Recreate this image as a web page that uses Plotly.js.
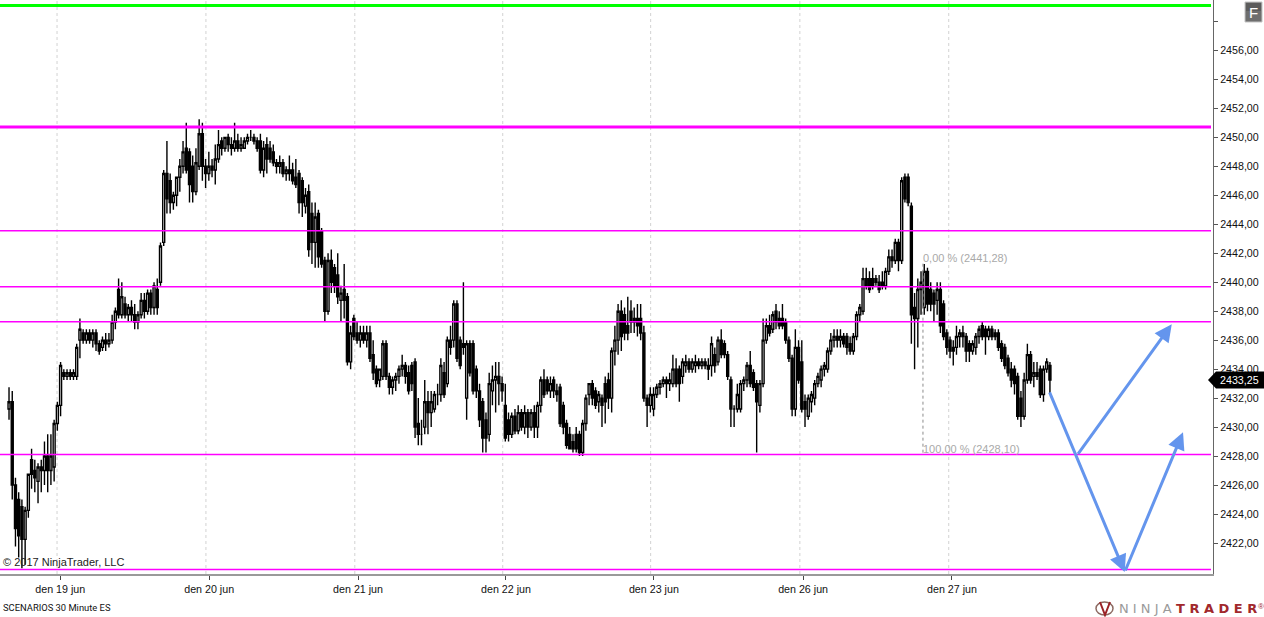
<!DOCTYPE html>
<html><head><meta charset="utf-8">
<script src="https://cdn.plot.ly/plotly-3.0.1.min.js"></script>
<style>html,body{margin:0;padding:0;background:#fff;overflow:hidden}</style></head>
<body><div id="chart" style="width:1264px;height:617px"></div>
<script>
// Each row: open, high, low, close
const barsBeforeJun19 = [
[2431.25,2432.75,2430.5,2431.75],[2431.75,2432.5,2425,2426],[2426,2426.5,2421.75,2423],[2425,2425.5,2421,2422.5],[2424.5,2425,2420.25,2422.25],
[2422.25,2424.5,2420.5,2424.25],[2424.25,2426.75,2423.75,2426.75],[2427.75,2428.5,2425.75,2426.75],[2427,2427.75,2425.5,2426.5],[2426.25,2427.5,2424.75,2427.25],
[2427.25,2427.75,2425.5,2427],[2427,2429,2426,2428],[2428,2429.5,2425.5,2427],[2427,2429.5,2426,2428],[2427.25,2430.5,2426.25,2430.25]];
const barsJun19 = [
[2430.25,2431.75,2429.75,2431.5],[2431.5,2434.5,2430.75,2434.25],[2433.75,2434,2433.25,2433.5],[2433.5,2434,2433.25,2433.75],[2433.75,2434,2433.25,2433.5],
[2433.5,2434,2433.25,2433.75],[2433.5,2435.75,2433.25,2435.5],[2436,2437.5,2434.75,2436.75],[2436.5,2436.75,2435.75,2436],[2436,2436.75,2435.75,2436.5],
[2436.5,2436.75,2435.75,2436],[2436,2436.75,2435.5,2436.5],[2436.5,2436.75,2435.25,2435.75],[2435.75,2436,2435,2435.25],[2435.5,2436.25,2435.25,2436],
[2436,2436.5,2435.25,2435.75],[2435.75,2436.5,2435.5,2436],[2436,2437.75,2435.75,2437.25],[2437.25,2438.25,2436.75,2438],[2439.5,2440.25,2437.5,2437.75],
[2437.75,2440,2437.5,2439],[2438.5,2439,2437.5,2437.75],[2437.75,2438.5,2437.25,2438.25],[2438.25,2438.75,2437.25,2437.75],[2437.75,2438.5,2436.75,2437.25],
[2437.25,2438,2436.75,2437.75],[2437.75,2439.25,2437.5,2438.75],[2438.75,2439.25,2437.5,2438],[2438,2439.5,2437.75,2439.25],[2439.25,2439.5,2437.75,2438.25],
[2438.25,2440,2437.75,2439.75],[2439.5,2440.25,2437.75,2438.25],[2440,2442.75,2439.75,2442.5],[2442.75,2447.75,2442.5,2447.5],[2447.5,2449.75,2444.75,2445.75],
[2447,2447.5,2444.75,2445.5],[2445.5,2446.25,2445,2446],[2446,2447.25,2445.25,2447.25],[2447.25,2448.5,2446.25,2448],[2448,2449.75,2447.5,2449],[2449.25,2451,2447.5,2447.75],
[2449,2449.25,2445.5,2446.75],[2448,2448.75,2445.5,2446.25],[2446.25,2449.25,2446,2448.25],[2448,2451.25,2447.75,2450.25],[2450.25,2451,2447,2448],
[2448,2448.5,2446.5,2447.5]];
const barsJun20 = [
[2447.5,2449,2447,2448],[2448,2448.5,2447.25,2447.75],[2447.75,2449.5,2446.75,2448.5],[2448.5,2450.5,2448.25,2449.5],[2449.75,2450,2448.75,2449.25],
[2449.25,2450,2449,2450],[2450,2450.25,2449,2449.5],[2449.5,2450,2448.75,2449.25],[2449.25,2451,2449,2449.75],[2449.75,2450.25,2449,2449.25],
[2449.25,2450,2449,2449.5],[2449.25,2450,2449.25,2449.75],[2449.75,2450.25,2449.5,2450],[2450,2450.5,2449.75,2450],
[2450,2450.25,2449.5,2449.75],[2449.75,2450,2449,2449.25],[2449.75,2450.25,2447.5,2447.75],[2447.75,2449.75,2447.25,2449.25],[2449.5,2450,2447.5,2448.5],
[2449.25,2449.75,2448.25,2448.5],[2449,2449.5,2448,2448.25],[2448.25,2448.5,2447.5,2448],[2448,2448.75,2447.5,2448.25],[2448.25,2448.5,2447.25,2447.5],
[2447.5,2448,2447,2447.75],[2447.75,2448.75,2447,2447.5],[2447.75,2448.25,2446.75,2447],[2447.25,2448.5,2446.5,2446.75],[2447.5,2447.75,2444.75,2445.5],
[2447,2447.25,2444.5,2445.5],[2445.25,2446.5,2444.75,2446],[2446.25,2446.75,2441.75,2442.25],[2444.75,2445.5,2441.25,2442.75],[2442.75,2445.5,2441,2444.5],
[2444.75,2445,2441,2441.75],[2443.5,2443.75,2441,2441.25],[2441.5,2441.75,2437.25,2438],[2438,2442,2437.75,2441.5],[2441.5,2442.25,2439.25,2440],
[2441,2441.25,2439.25,2439.75],[2440.5,2442,2438.5,2439],[2438.75,2439.75,2437.25,2439.25],[2439.5,2441.25,2437.5,2438.75],[2439,2439.25,2434.25,2434.5],
[2434.5,2437,2434,2436.5]];
const barsJun21 = [
[2437.5,2437.75,2436,2436.25],[2436.5,2437.25,2435.75,2436],[2436,2437,2435.5,2436.5],[2436.5,2437,2435.75,2436],[2436,2437,2435.5,2436.5],
[2436.5,2437,2434.5,2434.75],[2435,2436,2433.25,2433.75],[2434,2434.25,2432.75,2433],[2433.25,2434,2432.75,2434],[2433.5,2436,2433.25,2435.75],
[2435.75,2436,2433.25,2433.5],[2433.5,2433.75,2432.25,2432.75],[2432.75,2433.5,2432.25,2433.25],[2433.25,2433.75,2432.5,2433.5],[2433.5,2434.25,2433,2434],
[2434,2435,2433.5,2434.25],[2434.25,2434.5,2433,2433.5],[2433.75,2434.25,2432.25,2432.5],[2434.25,2434.5,2432.5,2433],[2434.5,2434.75,2429.25,2430],
[2430.25,2432,2428.75,2429.5],[2429.5,2430.5,2428.75,2429.5],[2430,2433.25,2429.5,2431.75],[2431.75,2432.5,2429.5,2431],[2431,2432.5,2430,2431.75],
[2431.25,2432.5,2431,2432.25],[2432.25,2433,2431.5,2432.25],[2432.25,2434.75,2431.75,2434.25],[2433.75,2434.5,2432,2432.25],[2433,2436.25,2432.75,2436],
[2436,2437,2435,2435.5],[2436,2438.75,2435.5,2438.5],[2438.5,2438.75,2434.5,2434.75],[2436,2436.25,2434,2434.25],[2435.75,2440,2435,2435.5],
[2432,2436,2430.5,2435.75],[2435.75,2436,2433.5,2433.75],[2435.75,2436,2432.25,2432.5],[2434,2434.25,2432,2432.5],[2432.5,2433,2430,2430.5],
[2431.75,2432,2428.25,2429.25],[2430.5,2431,2428.25,2429.25],[2429.5,2433.75,2429,2433],[2432.5,2434.25,2431.5,2433.25],[2433.25,2434.5,2431,2433.5],
[2433.5,2434.5,2431.5,2433]];
const barsJun22 = [
[2433,2433.5,2431.75,2432.5],[2431.5,2433,2429,2429.25],[2430.5,2431,2429,2429.5],[2429.5,2431,2429.25,2430.75],[2430.75,2431.25,2429.5,2429.75],
[2429.75,2431.5,2429.5,2431],[2431,2431.25,2429.75,2430],[2430,2431.5,2429.5,2431],[2431,2431.25,2429.25,2430],[2430,2431.25,2429.75,2431],
[2431,2431.5,2429.25,2430],[2430,2431.75,2429.25,2431.5],[2431.5,2433.5,2431,2433.25],[2433.25,2434,2432,2432.25],[2433.25,2433.5,2432.25,2432.5],
[2432.5,2433.5,2432,2433],[2433.25,2433.5,2432,2432.5],[2432.5,2433,2431.75,2432.25],[2432.75,2433,2430,2430.25],[2431.5,2431.75,2429.5,2430],
[2430.25,2430.5,2428.5,2428.75],[2429.5,2430,2428.5,2428.5],[2429,2429.5,2428.25,2428.5],[2429.5,2430,2428.25,2428.5],[2429.5,2429.75,2428,2428.25],
[2428.25,2430.5,2428,2430.25],[2430.25,2432.25,2429.75,2432],[2432.25,2433,2431.5,2433],[2433,2433.25,2431.5,2432],[2432.5,2432.75,2431.25,2431.5],
[2431.75,2432.5,2431,2432.25],[2432,2432.25,2430,2431.5],[2433,2433.5,2430.25,2431.75],[2433.25,2433.75,2431.25,2432],[2432,2435.5,2431,2435.25],
[2435.25,2437,2434.25,2436],[2436,2438.5,2435,2438],[2438,2438.75,2435.25,2436.25],[2437.75,2438.25,2436,2436.5],[2437,2439,2436,2436.5],
[2438,2438.75,2436.5,2437.25],[2437.5,2438.25,2436.5,2437.25],[2437.5,2438.5,2436.25,2437],[2437.5,2438.5,2436,2436.5],[2436.5,2437,2431.75,2432],
[2432,2432.25,2430,2431.5]];
const barsJun23 = [
[2431.5,2432.75,2431,2432.25],[2431.25,2432.75,2430.75,2432.25],[2432.25,2433,2432,2432.75],[2432.75,2433.25,2432.25,2433],[2433,2433.5,2432.75,2433.25],
[2433.25,2433.5,2432,2433],[2433,2433.75,2432.5,2433.25],[2433,2435,2432.75,2434],[2434,2434.75,2432.75,2433],[2434,2434.25,2431.75,2433],
[2433.5,2434.75,2433,2434.5],[2434.25,2435,2433.75,2434.5],[2434.5,2434.75,2433.75,2434],[2434,2434.75,2433.75,2434.5],[2434.25,2435,2433.75,2434.5],
[2434.5,2434.75,2434,2434.25],[2434.25,2434.75,2434,2434.5],[2434.5,2434.75,2434,2434.25],[2434.25,2434.75,2433.25,2434],[2434.25,2436.25,2433.5,2435.75],
[2435,2435.5,2433.75,2434.25],[2434.5,2436.25,2434.25,2436],[2436,2436.75,2434.75,2435],[2435.75,2436,2434.75,2435],[2435,2435.25,2433.25,2433.5],
[2433.25,2433.5,2430,2431.25],[2431.25,2431.5,2430,2431.25],[2431.25,2433,2431,2432.25],[2431.25,2433.25,2431,2433],[2433,2433.5,2432.5,2433.25],
[2433.25,2434.5,2432.75,2434.25],[2434.25,2435.25,2432.75,2433],[2433.75,2434,2432.5,2432.75],[2433,2433.25,2428.25,2431.75],[2431.5,2433.25,2431,2433],
[2433,2437.5,2432.75,2436],[2436,2437.5,2435.75,2437],[2437,2437.75,2436.25,2436.5],[2436.75,2438,2436.5,2437.75],[2438,2438.5,2436.75,2437.25],
[2437.5,2438,2436.75,2437],[2437.5,2438.5,2436.75,2437],[2437.25,2437.5,2435.75,2436],[2436,2436.25,2434.5,2434.75],[2434.75,2435,2430.75,2431.25],
[2431.25,2436.75,2430.75,2435.5]];
const barsJun26 = [
[2435.5,2436,2433,2433.25],[2434.5,2436,2431,2431.25],[2431.75,2432.25,2430,2431.25],[2430.75,2432.25,2430.5,2432],[2431.75,2432.5,2431,2432.25],
[2432,2433.25,2431.5,2433],[2433,2433.75,2432.75,2433.5],[2433.25,2434.25,2432.75,2434],[2434,2434.5,2433.5,2434.25],[2434,2435.5,2433.75,2435.25],
[2435.25,2436.5,2435,2436],[2436,2436.75,2435.5,2436.25],[2436.25,2436.75,2435.5,2436],[2436,2436.75,2435.5,2436.25],[2436.25,2436.5,2435.5,2435.75],
[2436.25,2436.5,2435,2435.5],[2435.75,2436.25,2435,2435.25],[2435.25,2436.5,2435,2436.25],[2436.25,2438,2436,2437.75],[2437.75,2438.5,2437.25,2438.25],
[2438,2441,2437.75,2440.25],[2440.25,2441,2439.5,2439.75],[2440.25,2440.75,2439.25,2439.5],[2440.25,2441,2439.5,2439.75],[2440.25,2440.5,2439.75,2440],
[2440,2440.5,2439.25,2439.5],[2440,2440.75,2439.5,2439.75],[2439.75,2441,2439.5,2440.75],[2440.75,2442.25,2440.5,2441.75],[2441.75,2442.25,2441,2441.5],
[2441.5,2443,2441.25,2442.75],[2442.75,2443,2440.75,2441.5],[2441.5,2447.25,2441.25,2447],[2447.25,2447.5,2445.5,2445.75],[2447.25,2447.5,2445.25,2445.5],
[2445.25,2445.5,2435.75,2437.75],[2438.25,2439.25,2434,2437.5],[2437.5,2440.25,2435.5,2439.5],[2439.5,2440.75,2437.75,2440],[2438.25,2441.25,2437.75,2440.75],
[2440.75,2441,2438,2438.5],[2439.5,2440,2438,2438.5],[2439.25,2439.5,2437.25,2438.5],[2438.75,2440,2437.75,2439.5],[2439.5,2440,2436.5,2437],
[2438.5,2438.75,2436,2436.25]];
const barsJun27 = [
[2436.5,2436.75,2435,2435.5],[2436,2436.25,2434.75,2435.25],[2435.5,2436,2434.25,2435.25],[2435.5,2437,2435,2436.25],[2436.25,2436.75,2435.5,2436.5],
[2436.5,2437,2435.5,2436.25],[2436.25,2436.5,2434.5,2435.25],[2435.75,2436,2434.5,2435.25],[2435.25,2436,2435,2435.75],[2435.5,2436.5,2435,2436.25],
[2436.25,2437,2435.75,2436.75],[2437,2437.25,2436,2436.25],[2436.75,2437,2435,2436.25],[2436.25,2437,2436,2436.75],[2436.75,2437,2436,2436.25],
[2436.5,2436.75,2436,2436.25],[2436.5,2436.75,2435.25,2435.5],[2435.75,2436,2434.5,2434.75],[2435.5,2435.75,2434,2434.25],[2434.75,2435,2433.5,2433.75],
[2434,2434.5,2432.75,2433.25],[2434,2434.25,2432.25,2433],[2433.5,2433.75,2430.5,2430.75],[2432,2432.5,2430,2430.75],[2430.75,2433.75,2430.5,2433.25],
[2433.25,2435.75,2433,2435],[2435,2435.25,2433,2433.25],[2433.5,2434.5,2432.75,2433.75],[2433.75,2434.5,2433.25,2433.5],[2434,2434.25,2432,2432.25],
[2432.25,2434.25,2431.75,2434],[2434,2434.75,2433.75,2434.5],[2434.25,2434.5,2432.25,2433.25]];

const dayLabels = ["den 19 jun","den 20 jun","den 21 jun","den 22 jun","den 23 jun","den 26 jun","den 27 jun"];
const dayGridBars = [14.9,61.1,107.3,153.2,199.1,245.4,291.6];
const priceTicks = [2458,2456,2454,2452,2450,2448,2446,2444,2442,2440,2438,2436,2434,2432,2430,2428,2426,2424,2422];
const magentaThick = [2450.72];
const magentaThin = [2443.55,2439.69,2437.27,2428.1,2420.17];
const greenLevel = 2459.1;
const fib = {bar:283.6, top:2441.28, bottom:2428.1, topText:"0,00 % (2441,28)", bottomText:"100,00 % (2428,10)"};
const scenarioFrom = [[322.7,2432.5],[331.4,2428.05],[346.2,2420]];
const scenarioTo   = [[346.2,2420],[360.8,2437.1],[364.3,2429.65]];
const lastPrice = "2433,25";

const bars = [].concat(barsBeforeJun19,barsJun19,barsJun20,barsJun21,barsJun22,barsJun23,barsJun26,barsJun27);
const idx = bars.map((b,i)=>i);
const W = 1213, H = 574;
const px = v => v/W, py = v => 1-v/H;
const FONT = "Liberation Sans, Arial, sans-serif";

const shapes = [];
dayGridBars.forEach(b=>shapes.push({type:"line",layer:"below",xref:"x",yref:"paper",x0:b,x1:b,y0:0,y1:1,line:{color:"#d2d2d2",width:1,dash:"dot"}}));
const hline = (y,color,width)=>({type:"line",xref:"paper",yref:"y",x0:0,x1:px(1211),y0:y,y1:y,line:{color,width}});
shapes.push(hline(greenLevel,"#00ff00",3));
magentaThick.forEach(y=>shapes.push(hline(y,"#ff00ff",3)));
magentaThin.forEach(y=>shapes.push(hline(y,"#ff00ff",1.5)));
shapes.push({type:"line",xref:"x",yref:"y",x0:fib.bar,x1:fib.bar,y0:fib.top,y1:fib.bottom,line:{color:"#8c8c8c",width:1,dash:"dot"}});
// last-price tag
shapes.push({type:"path",xref:"paper",yref:"paper",fillcolor:"#000",line:{width:0},
  path:`M ${px(1208)} ${py(380)} L ${px(1216)} ${py(371.5)} L ${px(1264)} ${py(371.5)} L ${px(1264)} ${py(388.5)} L ${px(1216)} ${py(388.5)} Z`});
// F button
shapes.push({type:"rect",xref:"paper",yref:"paper",x0:px(1245),x1:px(1262),y0:py(2),y1:py(22),fillcolor:"#6e6e6e",line:{color:"#c4c4c4",width:1}});
shapes.push({type:"rect",xref:"paper",yref:"paper",x0:px(1246),x1:px(1261),y0:py(3),y1:py(11),fillcolor:"#5c5c5c",line:{width:0}});
// logo mark
shapes.push({type:"circle",xref:"paper",yref:"paper",x0:px(1096),x1:px(1113),y0:py(602),y1:py(615),fillcolor:"rgba(0,0,0,0)",line:{color:"#8d6a62",width:1.5}});
shapes.push({type:"path",xref:"paper",yref:"paper",fillcolor:"rgba(0,0,0,0)",line:{color:"#9b2226",width:2},
  path:`M ${px(1100)} ${py(602)} L ${px(1105)} ${py(615)} L ${px(1110)} ${py(602)}`});

const annotations = [];
scenarioFrom.forEach((f,i)=>annotations.push({x:scenarioTo[i][0],y:scenarioTo[i][1],ax:f[0],ay:f[1],xref:"x",yref:"y",axref:"x",ayref:"y",
  text:"",showarrow:true,arrowhead:2,arrowsize:1.15,arrowwidth:3,arrowcolor:"#6495ed",standoff:0}));
const note = (text,x,y,size,color,family)=>({text,x:px(x),y:py(y),xref:"paper",yref:"paper",xanchor:"left",yanchor:"middle",showarrow:false,
  font:{family:family||FONT,size,color},borderpad:0});
annotations.push(note(fib.topText,922,258,11,"#a9a9a9"));
annotations.push(note(fib.bottomText,922,449,11,"#a9a9a9"));
annotations.push(note("© 2017 NinjaTrader, LLC",2,562,11,"#222"));
annotations.push(note("SCENARIOS 30 Minute ES",2,607,9.4,"#111","Roboto, sans-serif"));
annotations.push(note(lastPrice,1219,380,10.7,"#fff"));
annotations.push(note("F",1248,12,15,"#fff"));
annotations.push(note("N I N J A",1118,608,13,"#9a9a9a","DejaVu Sans"));
annotations.push(note("<b>T R A D E R</b>",1175,608,13,"#a1282c","DejaVu Sans"));
annotations.push(note("®",1257,606,8,"#a1282c"));

const trace = {type:"candlestick",x:idx,
  open:bars.map(b=>b[0]),high:bars.map(b=>b[1]),low:bars.map(b=>b[2]),close:bars.map(b=>b[3]),
  whiskerwidth:0,hoverinfo:"skip",
  increasing:{line:{color:"#000",width:1.4},fillcolor:"#fff"},
  decreasing:{line:{color:"#000",width:1.4},fillcolor:"#000"}};

const layout = {width:1264,height:617,margin:{l:0,r:51,t:0,b:43,pad:0},paper_bgcolor:"#fff",plot_bgcolor:"#fff",showlegend:false,
  separators:",.",font:{family:FONT,size:10.7,color:"#111"},boxgap:0.12,
  xaxis:{type:"linear",range:[-2.8,373.6],rangeslider:{visible:false},showgrid:false,zeroline:false,
    tickmode:"array",tickvals:dayGridBars.map(b=>b+1),ticktext:dayLabels,ticks:"outside",ticklen:4,tickcolor:"#444",
    showline:true,linecolor:"#9a9a9a",linewidth:2,tickfont:{family:FONT,size:10.7,color:"#111"}},
  yaxis:{side:"right",range:[2419.86,2459.48],showgrid:false,zeroline:false,
    tickmode:"array",tickvals:priceTicks,ticktext:priceTicks.map(t=>t===2458?"":t.toFixed(2).replace(".",",")),
    ticks:"outside",ticklen:4,tickcolor:"#555",showline:true,linecolor:"#666",linewidth:1,tickfont:{family:FONT,size:10.7,color:"#111"}},
  shapes,annotations};
Plotly.newPlot("chart",[trace],layout,{displayModeBar:false,staticPlot:true});
</script></body></html>
